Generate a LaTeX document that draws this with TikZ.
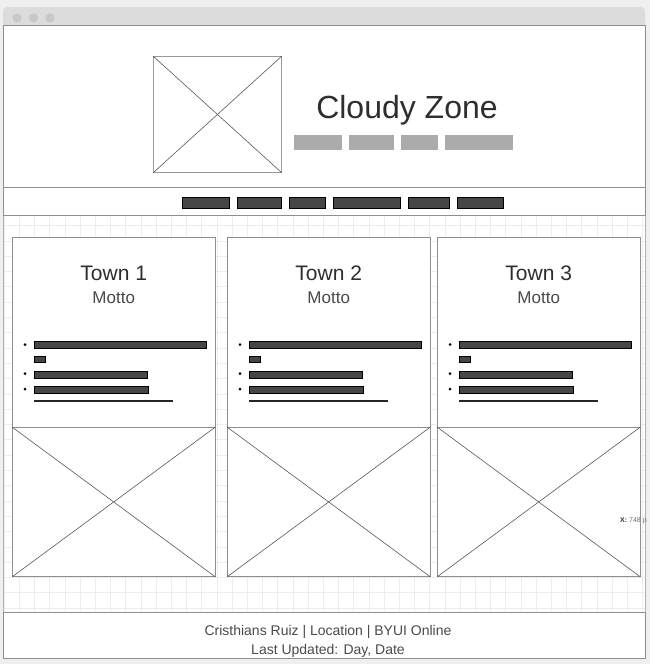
\documentclass[tikz,border=0pt]{standalone}
\usepackage{fontspec}
\setmainfont{Liberation Sans}
\usetikzlibrary{calc}
\definecolor{pagebg}{HTML}{EFEFEF}
\definecolor{titlebar}{HTML}{DCDCDC}
\definecolor{dotc}{HTML}{C8C8C8}
\definecolor{framec}{HTML}{8E8E8E}
\definecolor{gridc}{HTML}{EDEDED}
\definecolor{lightbar}{HTML}{ABABAB}
\definecolor{darkbar}{HTML}{464646}
\definecolor{ink}{HTML}{2E2E2E}
\definecolor{softink}{HTML}{4A4A4A}
\tikzset{
  box/.style={draw=framec, line width=0.9pt, fill=white, anchor=north west, inner sep=0pt},
  cross/.style={draw=ink!80, line width=0.6pt},
  navbar/.style={fill=darkbar, draw=black, line width=0.6pt},
  tagbar/.style={fill=lightbar},
  listbar/.style={fill=darkbar, draw=black, line width=0.5pt},
  heading/.style={text=ink, font=\fontsize{32}{38}\selectfont},
  townname/.style={text=ink, font=\fontsize{21}{25}\selectfont},
  mottotext/.style={text=softink, font=\fontsize{17}{20}\selectfont},
  foottext/.style={text=softink, font=\fontsize{14}{17}\selectfont},
}
\begin{document}
\begin{tikzpicture}[x=1pt, y=-1pt]
\useasboundingbox (0,0) rectangle (650,664);
\fill[pagebg] (0,0) rectangle (650,664);

% window title bar with its three dots
\fill[titlebar, rounded corners=4pt] (3,7) rectangle (645,32);
\foreach \dx [count=\i] in {17,33.5,50}
  \fill[dotc] (\dx,18) circle (4.6);

% window body
\fill[white] (3,25) rectangle (645,658);
\begin{scope}
  \clip (3,215) rectangle (645,612);
  \foreach \gx in {4,19.2,...,650}
    \draw[gridc, line width=0.6pt] (\gx,215) -- (\gx,612);
  \foreach \gy in {225.5,240.8,...,612}
    \draw[gridc, line width=0.6pt] (3,\gy) -- (645,\gy);
\end{scope}
\draw[framec!70, line width=0.8pt] (3,25) rectangle (645,658);

% header
\node[box, minimum width=642, minimum height=162] (header) at (3,25) {};
\node[box, draw=framec!90, minimum width=128, minimum height=116] (logo) at (153,56) {};
\draw[cross] (logo.north west) -- (logo.south east);
\draw[cross] (logo.north east) -- (logo.south west);
\node[heading] (title) at (407,110.5) {Cloudy Zone};
\fill[tagbar] (294,135) rectangle (342,150);
\fill[tagbar] (349,135) rectangle (394,150);
\fill[tagbar] (401,135) rectangle (438,150);
\fill[tagbar] (445,135) rectangle (513,150);

% navigation strip
\node[box, minimum width=642, minimum height=28] (nav) at (3,187) {};
\foreach \xa/\xb in {182/229, 237/281, 289/325, 333/400, 408/449, 457/503}
  \draw[navbar] (\xa,197.5) rectangle (\xb,208.5);

% town cards
\foreach \cx [count=\k] in {12,227,437} {
  \node[box, minimum width=202.5, minimum height=190] (card\k) at (\cx,237) {};
  \node[box, minimum width=202.5, minimum height=149] (pic\k) at (\cx,427) {};
  \draw[cross] (pic\k.north west) -- (pic\k.south east);
  \draw[cross] (pic\k.north east) -- (pic\k.south west);
  \node[townname] (town\k) at ($(card\k.north)+(0,36)$) {Town \k};
  \node[mottotext] (motto\k) at ($(card\k.north)+(0,60.5)$) {Motto};
  \fill[black] (\cx+13,344.5) circle (1.5);
  \fill[black] (\cx+13,373.5) circle (1.5);
  \fill[black] (\cx+13,389) circle (1.5);
  \draw[listbar] (\cx+22,341) rectangle (\cx+194,348);
  \draw[listbar] (\cx+22,356) rectangle (\cx+33,362);
  \draw[listbar] (\cx+22,371) rectangle (\cx+135,378);
  \draw[listbar] (\cx+22,386) rectangle (\cx+136,393);
  \draw[black!85, line width=1.4pt] (\cx+22,401) -- (\cx+161,401);
}

% footer
\node[box, minimum width=642, minimum height=46] (footer) at (3,612) {};
\node[foottext] (credits) at (328,632) {Cristhians Ruiz | Location | BYUI Online};
\node[foottext] (updated) at (328,651) {Last Updated: Day, Date};

% cursor readout at the right edge
\node[anchor=west, inner sep=0pt, font=\fontsize{7}{9}\selectfont, text=black!55] (readout) at (620,521)
  {\textbf{\color{black!80}X:} 748 p};
\end{tikzpicture}
\end{document}
